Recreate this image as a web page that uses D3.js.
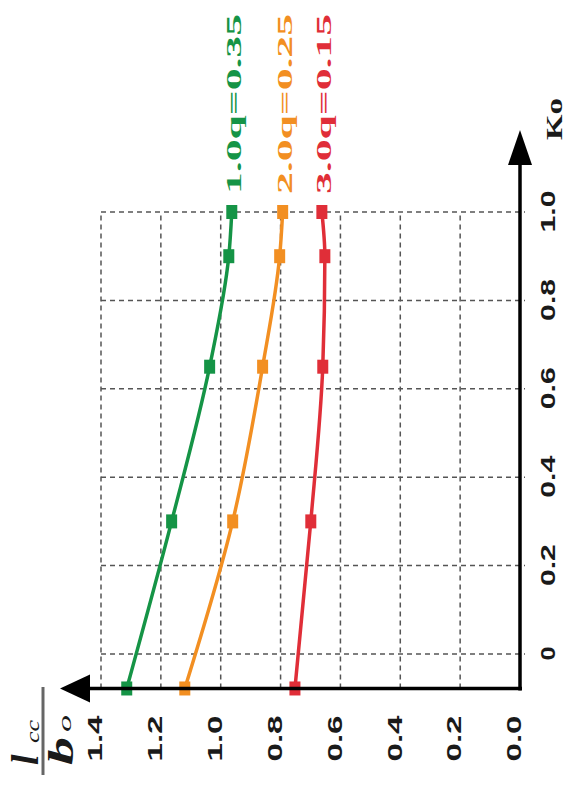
<!DOCTYPE html>
<html lang="en">
<head>
<meta charset="utf-8">
<title>lcc/bo vs Ko</title>
<script src="https://cdn.jsdelivr.net/npm/d3@7"></script>
<style>
  body { margin: 0; background: #fff; }
  .grid line { stroke: #555; stroke-width: 1.5; stroke-dasharray: 5,4; }
  .axis .tick text { font-family: "Liberation Sans", Arial, sans-serif; font-weight: bold; font-size: 21px; fill: #1a1a1a; }
  .serie-label { font-family: "Liberation Serif", "Times New Roman", serif; font-weight: bold; font-size: 22px; }
  .title { font-family: "Liberation Serif", "Times New Roman", serif; font-style: italic; fill: #1a1a1a; }
</style>
</head>
<body>
<svg width="572" height="787"></svg>
<script>
// data (the whole figure is turned by -90deg)
var ko = [-0.078, 0.3, 0.65, 0.9, 1.0];
var q035 = [1.314, 1.164, 1.037, 0.973, 0.963];
var q025 = [1.120, 0.960, 0.860, 0.803, 0.793];
var q015 = [0.752, 0.699, 0.659, 0.652, 0.662];
var serieNames = ["1.0q=0.35", "2.0q=0.25", "3.0q=0.15"];
var serieColors = ["#159446", "#f28f22", "#e02e38"];

var koTicks = [0, 0.2, 0.4, 0.6, 0.8, 1.0];
var koTickLabels = ["0", "0.2", "0.4", "0.6", "0.8", "1.0"];
var valTicks = [0, 0.2, 0.4, 0.6, 0.8, 1.0, 1.2, 1.4];
var valTickLabels = ["0.0", "0.2", "0.4", "0.6", "0.8", "1.0", "1.2", "1.4"];

var series = [q035, q025, q015];

var svg = d3.select("svg");

// draw in landscape, then turn the group
var g = svg.append("g").attr("transform", "translate(0,787) rotate(-90)");

var x = d3.scaleLinear().domain([0, 1]).range([133, 575]);
var y = d3.scaleLinear().domain([0, 1.4]).range([520, 101]);
var x0 = x(ko[0]);

// grid
var grid = g.append("g").attr("class", "grid");
grid.selectAll("line.gk")
    .data(koTicks)
    .join("line")
    .attr("class", "gk")
    .attr("x1", d => x(d)).attr("x2", d => x(d))
    .attr("y1", y(1.4)).attr("y2", y(0) + 5);
grid.selectAll("line.gv")
    .data(valTicks.slice(1))
    .join("line")
    .attr("class", "gv")
    .attr("x1", x0).attr("x2", x(1))
    .attr("y1", d => y(d)).attr("y2", d => y(d));

// axes (labels only, lines drawn after)
var axKo = g.append("g")
    .attr("class", "axis")
    .attr("transform", "translate(0," + y(0) + ")")
    .call(d3.axisBottom(x).tickValues(koTicks)
        .tickFormat((d, i) => koTickLabels[i]).tickSize(0).tickPadding(20));
axKo.select(".domain").remove();
axKo.selectAll(".tick text")
    .attr("textLength", (d, i) => koTickLabels[i].length * 14)
    .attr("lengthAdjust", "spacingAndGlyphs");

var axVal = g.append("g")
    .attr("class", "axis")
    .attr("transform", "translate(" + x0 + ",0)")
    .call(d3.axisLeft(y).tickValues(valTicks)
        .tickFormat((d, i) => valTickLabels[i]).tickSize(0).tickPadding(27));
axVal.select(".domain").remove();
axVal.selectAll(".tick text")
    .attr("y", -6)
    .attr("textLength", 46)
    .attr("lengthAdjust", "spacingAndGlyphs");

// series lines
var line = d3.line()
    .x((d, i) => x(ko[i]))
    .y(d => y(d))
    .curve(d3.curveMonotoneX);

series.forEach(function(s, k) {
    g.append("path")
        .attr("d", line(s))
        .attr("fill", "none")
        .attr("stroke", serieColors[k])
        .attr("stroke-width", 3.5);
    g.selectAll("rect.m" + k)
        .data(s)
        .join("rect")
        .attr("class", "m" + k)
        .attr("x", (d, i) => x(ko[i]) - 7)
        .attr("y", d => y(d) - 5.5)
        .attr("width", 14)
        .attr("height", 11)
        .attr("fill", serieColors[k]);
    g.append("text")
        .attr("class", "serie-label")
        .attr("x", x(1) + 18)
        .attr("y", y(s[s.length - 1]) + 9)
        .attr("fill", serieColors[k])
        .attr("textLength", 180)
        .attr("lengthAdjust", "spacingAndGlyphs")
        .text(serieNames[k]);
});

// axis lines with arrows
g.append("line")
    .attr("x1", x0 - 2).attr("x2", 630)
    .attr("y1", y(0)).attr("y2", y(0))
    .attr("stroke", "#000").attr("stroke-width", 3.5);
g.append("path")
    .attr("d", "M657," + y(0) + "L622," + (y(0) - 12) + "L622," + (y(0) + 12) + "Z")
    .attr("fill", "#000");
g.append("line")
    .attr("x1", x0).attr("x2", x0)
    .attr("y1", y(0) + 2).attr("y2", 85)
    .attr("stroke", "#000").attr("stroke-width", 3.5);
g.append("path")
    .attr("d", "M" + x0 + ",60L" + (x0 - 14) + ",90L" + (x0 + 14) + ",90Z")
    .attr("fill", "#000");

// axis titles
g.append("text")
    .attr("class", "serie-label")
    .attr("x", 647).attr("y", y(0) + 42)
    .attr("fill", "#1a1a1a")
    .style("font-size", "23px")
    .attr("textLength", 42)
    .attr("lengthAdjust", "spacingAndGlyphs")
    .text("Ko");

// l_cc / b_o
g.append("line")
    .attr("x1", 12).attr("x2", 100)
    .attr("y1", 43).attr("y2", 43)
    .attr("stroke", "#666").attr("stroke-width", 3);
g.append("text").attr("class", "title")
    .attr("x", 22).attr("y", 38)
    .style("font-size", "38px").style("font-weight", "bold")
    .text("l");
g.append("text").attr("class", "title")
    .attr("x", 44).attr("y", 39)
    .style("font-size", "18px")
    .attr("textLength", 23).attr("lengthAdjust", "spacingAndGlyphs")
    .text("cc");
g.append("text").attr("class", "title")
    .attr("x", 22).attr("y", 73)
    .style("font-size", "36px").style("font-weight", "bold")
    .attr("textLength", 28).attr("lengthAdjust", "spacingAndGlyphs")
    .text("b");
g.append("text").attr("class", "title")
    .attr("x", 55).attr("y", 71)
    .style("font-size", "18px")
    .attr("textLength", 17).attr("lengthAdjust", "spacingAndGlyphs")
    .text("o");
</script>
</body>
</html>
